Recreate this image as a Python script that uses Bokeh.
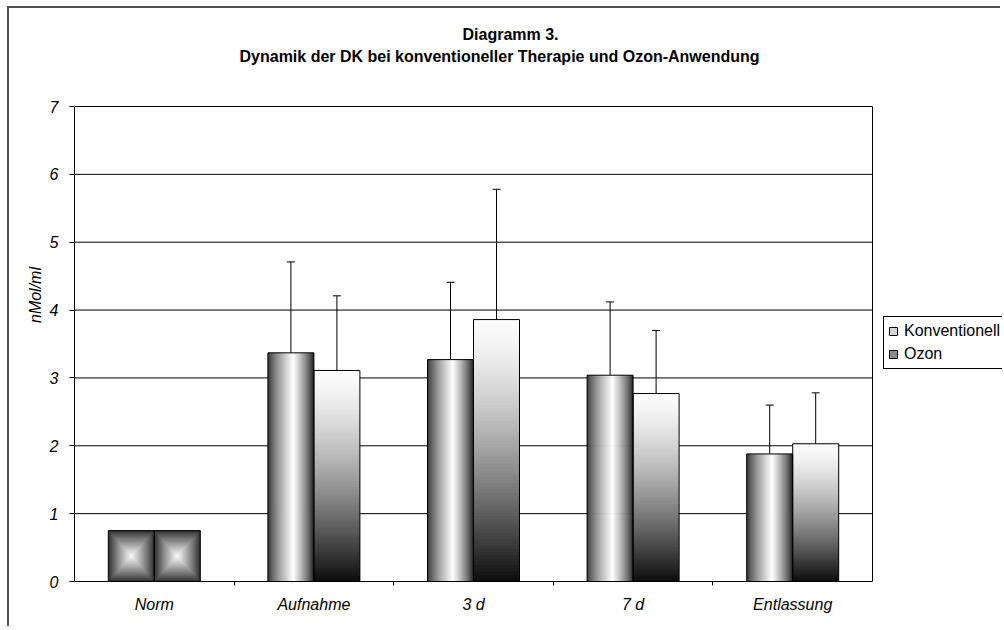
import numpy as np
from bokeh.plotting import figure
from bokeh.models import (Range1d, FixedTicker, Whisker, TeeHead, ColumnDataSource,
                          Legend, LegendItem, Label)
from bokeh.embed import file_html
from bokeh.resources import INLINE

# ---------------- data ----------------
categories = ["Norm", "Aufnahme", "3 d", "7 d", "Entlassung"]
series = ["Konventionell", "Ozon"]
konv = [0.75, 3.37, 3.27, 3.04, 1.88]
ozon = [0.75, 3.11, 3.86, 2.77, 2.03]
konv_sd = [0.0, 1.34, 1.14, 1.08, 0.72]
ozon_sd = [0.0, 1.10, 1.92, 0.93, 0.75]
y_ticks = [0, 1, 2, 3, 4, 5, 6, 7]
title_lines = ["Diagramm 3.",
               "Dynamik der DK bei konventioneller Therapie und Ozon-Anwendung"]
y_label = "nMol/ml"

FONT = "Liberation Sans"
W, H = 993, 620
ML, MR, MT, MB = 65, 0, 0, 47
n = len(categories)
ymax = y_ticks[-1]
frame_w = W - ML - MR
frame_h = H - MT - MB
plot_w, plot_h = 798, 475         # visible plot-area size in px
px_x = plot_w / n
px_y = plot_h / ymax
x_end = frame_w / px_x
y_end = frame_h / px_y

p = figure(width=W, height=H, x_range=Range1d(0, x_end), y_range=Range1d(0, y_end),
           output_backend="svg", toolbar_location=None,
           min_border_left=ML, min_border_right=MR, min_border_top=MT, min_border_bottom=MB)
p.styles = {"margin-left": "7px", "margin-top": "6px",
            "border-left": "2px solid #505050", "border-top": "2px solid #505050"}
p.background_fill_color = "white"
p.border_fill_color = "white"
p.outline_line_color = None
p.title.visible = False

# ---------------- title (two lines) ----------------
title_left = [(462 - 74) / px_x, (239 - 74) / px_x]     # left edges, data x
title_base = [(581 - 34) / px_y, (581 - 56) / px_y]     # baselines, data y
for line, xl, yb in zip(title_lines, title_left, title_base):
    p.add_layout(Label(x=xl, y=yb, text=line, text_align="left",
                       text_baseline="alphabetic", text_font=FONT,
                       text_font_style="bold", text_font_size="16px", text_color="black"))

# ---------------- axes ----------------
centers = [i + 0.5 for i in range(n)]
p.xaxis.ticker = FixedTicker(ticks=centers, minor_ticks=list(range(1, n)))
p.xaxis.bounds = (0, n)
p.xaxis.major_label_overrides = {c: lab for c, lab in zip(centers, categories)}
p.xaxis.major_tick_line_color = None
p.xaxis.major_tick_out = 0
p.xaxis.major_tick_in = 0
p.xaxis.minor_tick_in = 0
p.xaxis.minor_tick_out = 4
p.xaxis.minor_tick_line_color = "black"
p.xaxis.axis_line_color = "black"
p.xaxis.major_label_standoff = 10
p.xaxis.major_label_text_font = FONT
p.xaxis.major_label_text_font_style = "italic"
p.xaxis.major_label_text_font_size = "16px"
p.xaxis.major_label_text_color = "black"

p.yaxis.ticker = FixedTicker(ticks=y_ticks, minor_ticks=[])
p.yaxis.bounds = (0, ymax)
p.yaxis.major_tick_out = 5
p.yaxis.major_tick_in = 0
p.yaxis.major_tick_line_color = "black"
p.yaxis.axis_line_color = "black"
p.yaxis.major_label_standoff = 11
p.yaxis.major_label_text_font = FONT
p.yaxis.major_label_text_font_style = "italic"
p.yaxis.major_label_text_font_size = "16px"
p.yaxis.major_label_text_color = "black"
p.yaxis.axis_label = y_label
p.yaxis.axis_label_text_font = FONT
p.yaxis.axis_label_text_font_style = "italic"
p.yaxis.axis_label_text_font_size = "16px"
p.yaxis.axis_label_text_color = "black"
p.yaxis.axis_label_standoff = 3

p.xgrid.grid_line_color = None
p.ygrid.grid_line_color = None

# horizontal grid lines and the right edge of the plot area
p.segment(x0=[0] * len(y_ticks), x1=[n] * len(y_ticks), y0=y_ticks, y1=y_ticks,
          line_color="black", line_width=1)
p.segment(x0=[n], x1=[n], y0=[0], y1=[ymax], line_color="black", line_width=1)

# ---------------- bars with gradient fills ----------------
bw = 46 / px_x  # bar width in data units


def gray(b):
    b = int(max(0, min(255, round(b))))
    return "#%02x%02x%02x" % (b, b, b)


def k_shade(t):
    # horizontal "cylinder" gradient: dark edges, light centre
    if t < 0.55:
        return 45 + 210 * (t / 0.55) ** 0.75
    return 20 + 235 * ((1 - t) / 0.45) ** 0.75


def o_shade(s):
    # vertical gradient, s=0 at top (white) -> 1 at bottom (black)
    return 252 - 240 * s ** 1.4


L, R, B, T, C = [], [], [], [], []
outline = dict(left=[], right=[], bottom=[], top=[])

for i in range(n):
    kl, kr = centers[i] - bw, centers[i]
    ol, orr = centers[i], centers[i] + bw
    for (l, r, v) in ((kl, kr, konv[i]), (ol, orr, ozon[i])):
        outline["left"].append(l); outline["right"].append(r)
        outline["bottom"].append(0); outline["top"].append(v)
    if i == 0:
        # rectangular "from centre" gradient for the norm bars
        for (l, r, v) in ((kl, kr, konv[i]), (ol, orr, ozon[i])):
            cx, cy = (l + r) / 2, v / 2
            hw, hh = (r - l) / 2, v / 2
            N = 24
            for k in range(N):
                f = k / N
                L.append(cx - hw * (1 - f)); R.append(cx + hw * (1 - f))
                B.append(cy - hh * (1 - f)); T.append(cy + hh * (1 - f))
                C.append(gray(48 + 205 * f ** 0.9))
        continue
    # Konventionell: horizontal gradient strips
    N = 46
    edges = np.linspace(kl, kr, N + 1)
    for k in range(N):
        t = (k + 0.5) / N
        L.append(edges[k]); R.append(min(edges[k + 1] + (edges[1] - edges[0]) * 0.5, kr))
        B.append(0); T.append(konv[i]); C.append(gray(k_shade(t)))
    # Ozon: vertical gradient strips
    N = 80
    v = ozon[i]
    hedges = np.linspace(v, 0, N + 1)
    for k in range(N):
        s = (k + 0.5) / N
        L.append(ol); R.append(orr)
        T.append(hedges[k]); B.append(max(hedges[k + 1] - (v / N) * 0.5, 0))
        C.append(gray(o_shade(s)))

grad = ColumnDataSource(dict(left=L, right=R, bottom=B, top=T, color=C))
p.quad(left="left", right="right", bottom="bottom", top="top", source=grad,
       fill_color="color", line_color=None)
p.quad(left="left", right="right", bottom="bottom", top="top",
       source=ColumnDataSource(outline), fill_color=None, line_color="black", line_width=1)

# ---------------- error bars (upper only) ----------------
eb_x, eb_lo, eb_hi = [], [], []
for i in range(n):
    if konv_sd[i] > 0:
        eb_x.append(centers[i] - bw / 2); eb_lo.append(konv[i]); eb_hi.append(konv[i] + konv_sd[i])
    if ozon_sd[i] > 0:
        eb_x.append(centers[i] + bw / 2); eb_lo.append(ozon[i]); eb_hi.append(ozon[i] + ozon_sd[i])
esrc = ColumnDataSource(dict(base=eb_x, lower=eb_lo, upper=eb_hi))
wh = Whisker(base="base", lower="lower", upper="upper", source=esrc, dimension="height",
             line_color="black", line_width=1,
             upper_head=TeeHead(size=8, line_color="black", line_width=1), lower_head=None)
p.add_layout(wh)

# ---------------- legend ----------------
# legend-only renderers (placed outside the visible ranges)
rk = p.quad(left=[-3], right=[-2], bottom=[-3], top=[-2], fill_color="#d4d4d4", line_color="black")
ro = p.quad(left=[-3], right=[-2], bottom=[-3], top=[-2], fill_color="#8c8c8c", line_color="black")
legend = Legend(items=[LegendItem(label=series[0], renderers=[rk]),
                       LegendItem(label=series[1], renderers=[ro])],
                location=(809, 212), orientation="vertical",
                border_line_color="black", border_line_width=1, border_line_alpha=1,
                background_fill_color="white", background_fill_alpha=1,
                label_text_font=FONT, label_text_font_size="16px", label_text_color="black",
                glyph_width=10, glyph_height=10, label_standoff=6,
                padding=4, spacing=3, label_height=20, margin=0)
p.add_layout(legend, "center")

open("out.html", "w").write(file_html(p, INLINE))
